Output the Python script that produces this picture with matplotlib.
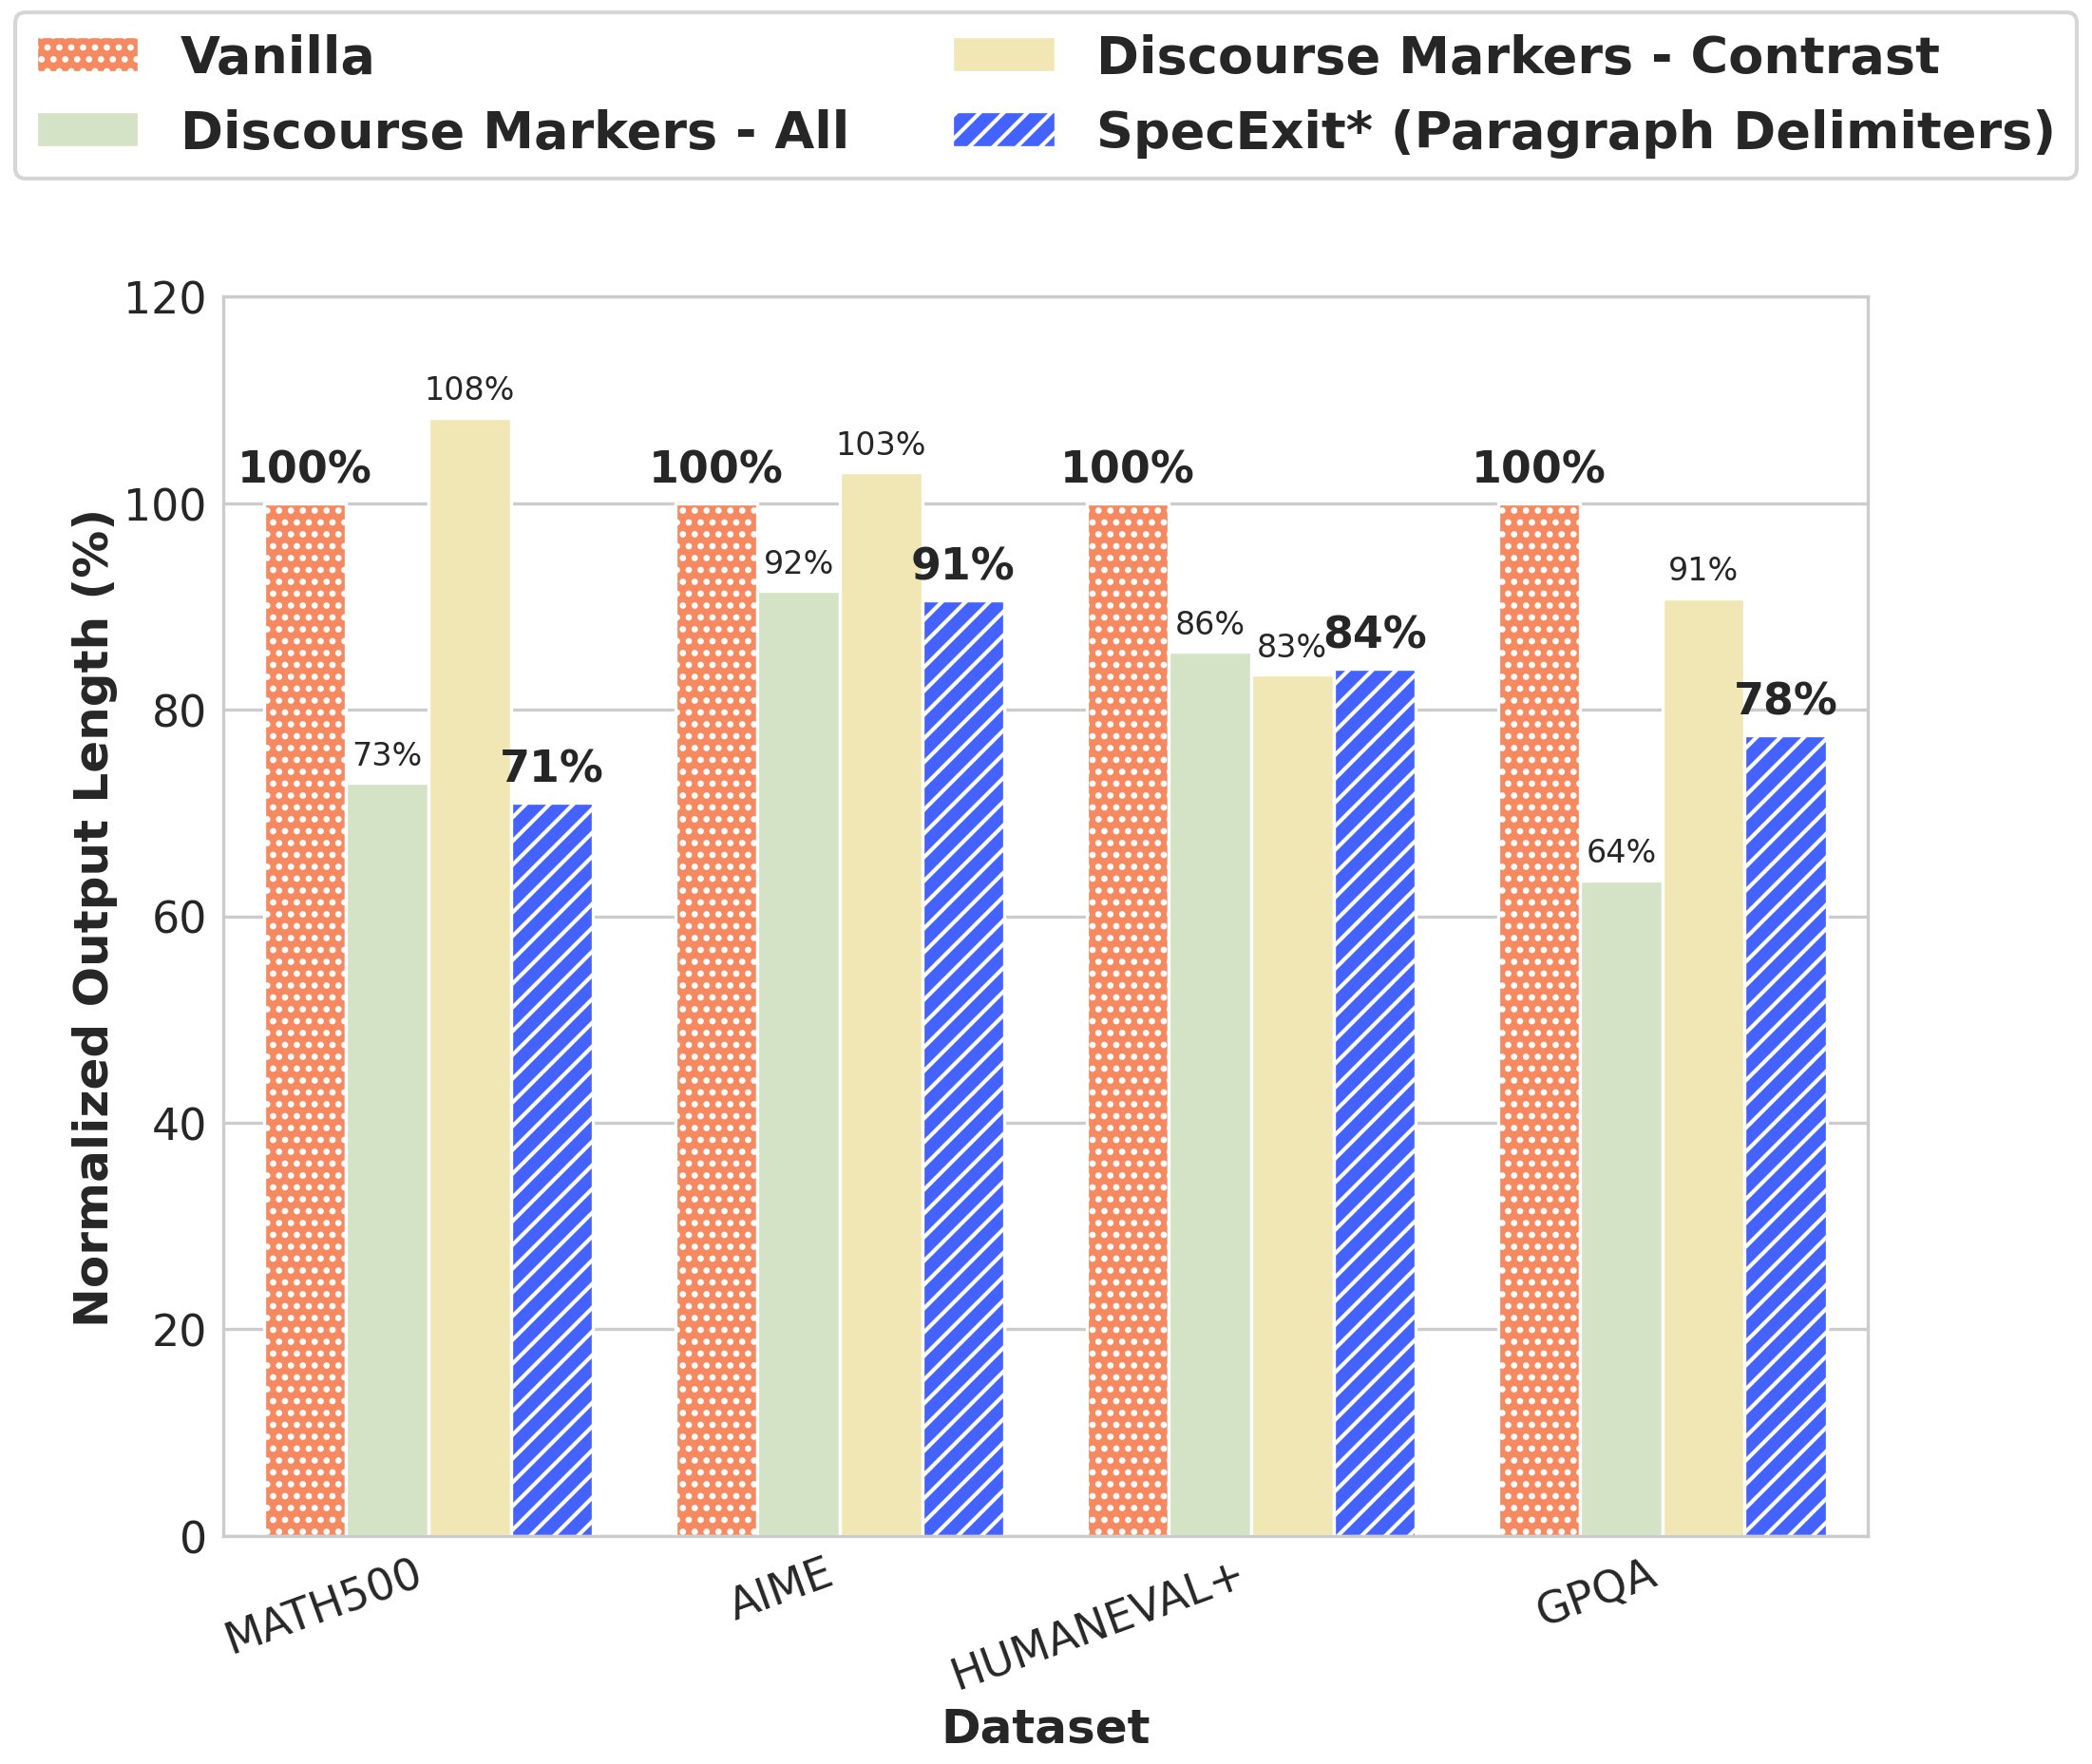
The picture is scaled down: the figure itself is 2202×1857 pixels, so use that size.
import numpy as np
import matplotlib
matplotlib.use("Agg")
import matplotlib.pyplot as plt
import seaborn as sns

sns.set_style("whitegrid")
plt.rcParams['font.family'] = ['DejaVu Sans']
plt.rcParams['hatch.linewidth'] = 1.0

# data
datasets = ["MATH500", "AIME", "HUMANEVAL+", "GPQA"]
vanilla = [100.0, 100.0, 100.0, 100.0]
dm_all = [72.9, 91.5, 85.6, 63.5]
dm_contrast = [108.3, 103.0, 83.4, 90.8]
specexit = [71.0, 90.6, 84.0, 77.5]

series = [
    ("Vanilla", vanilla, "#F6895F", "....", True),
    ("Discourse Markers - All", dm_all, "#D4E2C6", "", False),
    ("Discourse Markers - Contrast", dm_contrast, "#F1E7B5", "", False),
    ("SpecExit* (Paragraph Delimiters)", specexit, "#4462FF", "////", True),
]

fig, ax = plt.subplots(figsize=(7.34, 6.193), dpi=300)
x = np.arange(len(datasets))
width = 0.2

for i, (name, vals, color, hatch, bold) in enumerate(series):
    pos = x + (i - 1.5) * width
    bars = ax.bar(pos, vals, width, color=color, hatch=hatch, edgecolor="white",
                  linewidth=0.8, label=name, zorder=2)
    for b, v in zip(bars, vals):
        ax.annotate(f"{v:.0f}%", (b.get_x() + b.get_width() / 2, b.get_height()),
                    xytext=(0, 3), textcoords="offset points", ha="center", va="bottom",
                    fontsize=11 if bold else 8, fontweight="bold" if bold else "normal",
                    color="#262626")

ax.set_ylim(0, 120)
ax.set_xlim(-0.5, 3.5)
ax.set_xticks(x)
ax.set_xticklabels(datasets, rotation=20, ha="right", fontsize=11)
ax.tick_params(axis="both", length=0, pad=4)
ax.tick_params(axis="y", labelsize=11)
ax.set_xlabel("Dataset", fontsize=12, fontweight="bold", labelpad=2)
ax.set_ylabel("Normalized Output Length (%)", fontsize=12, fontweight="bold", labelpad=1.5)
ax.grid(axis="x", visible=False)
ax.grid(axis="y", color="#cccccc", zorder=0)
for s in ax.spines.values():
    s.set_color("#cccccc")

fig.legend(loc="upper center", bbox_to_anchor=(0.5, 1.007), ncol=2,
           prop={"size": 13, "weight": "bold"}, frameon=True)

fig.subplots_adjust(left=0.1065, right=0.893, top=0.8314, bottom=0.1293)
fig.savefig("out.png", dpi=300)
